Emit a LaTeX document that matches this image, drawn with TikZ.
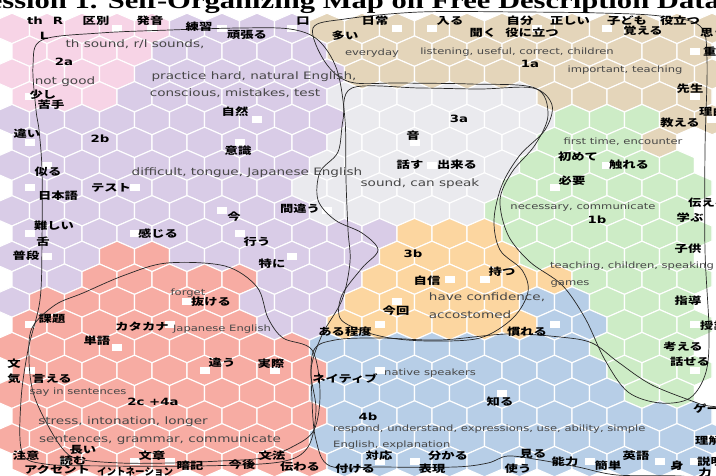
\documentclass[tikz,border=0pt]{standalone}
\usepackage{fontspec}
\usepackage{graphicx}
\setmainfont{Liberation Serif}
\newfontfamily\jpf{Noto Sans CJK JP}
\newfontfamily\enf{DejaVu Sans}
\newcommand\sx[1]{\scalebox{1.33}[1]{#1}}
\definecolor{cP}{RGB}{247,212,230}
\definecolor{cV}{RGB}{217,204,231}
\definecolor{cB}{RGB}{228,213,186}
\definecolor{cG}{RGB}{234,234,238}
\definecolor{cN}{RGB}{205,236,198}
\definecolor{cO}{RGB}{252,214,160}
\definecolor{cS}{RGB}{247,172,163}
\definecolor{cL}{RGB}{183,206,231}
\definecolor{cW}{RGB}{255,255,255}
\tikzset{
  jp/.style={font=\jpf\bfseries\fontsize{10}{10}\selectfont, inner sep=0pt, anchor=mid, text=black},
  jpw/.style={jp, anchor=mid west},
  en/.style={font=\enf\fontsize{10.2}{10}\selectfont, inner sep=0pt, anchor=mid, text=black!72},
  ens/.style={font=\enf\fontsize{8.7}{9}\selectfont, inner sep=0pt, anchor=mid, text=black!72},
  ensw/.style={ens, anchor=mid west},
  cid/.style={font=\enf\bfseries\fontsize{10}{10}\selectfont, inner sep=0pt, anchor=mid, text=black},
  curve/.style={draw=black!85, line width=0.7pt},
  hexcell/.style={draw=white, line width=1.1pt},
  marker/.style={fill=white},
}
\newcommand\J[3]{\node[jp] (#1) at (#2) {\sx{#3}};}
\newcommand\JW[3]{\node[jpw] (#1) at (#2) {\sx{#3}};}
\newcommand\E[3]{\node[en] (#1) at (#2) {\sx{#3}};}
\newcommand\ES[3]{\node[ens] (#1) at (#2) {\sx{#3}};}
\newcommand\ESW[3]{\node[ensw] (#1) at (#2) {\sx{#3}};}
\newcommand\ID[3]{\node[cid] (#1) at (#2) {\sx{#3}};}
\begin{document}
\begin{tikzpicture}[x=1pt,y=-1pt]
\useasboundingbox (0,0) rectangle (716,476);
\clip (0,0) rectangle (716,476);
\fill[white] (0,0) rectangle (716,476);
% hexagonal map
\foreach \r/\cells in {
 1/{P,P,P,P,P,V,V,V,V,B,B,B,B,B,B,B,B,B,B,B,B},
 2/{P,P,P,P,V,V,V,V,V,B,B,B,B,B,B,B,B,B,B,B},
 3/{P,P,P,P,V,V,V,V,V,V,B,B,B,B,B,B,B,B,B,B,B},
 4/{P,P,P,V,V,V,V,V,V,G,G,G,G,G,G,B,B,B,B,B},
 5/{V,V,V,V,V,V,V,V,V,V,G,G,G,G,G,G,N,N,N,B,B},
 6/{V,V,V,V,V,V,V,V,V,G,G,G,G,G,G,N,N,N,B,W},
 7/{V,V,V,V,V,V,V,V,V,G,G,G,G,G,G,N,N,N,N,N,W},
 8/{V,V,V,V,V,V,V,V,G,G,G,G,G,G,N,N,N,N,N,N},
 9/{V,V,V,V,V,V,V,V,V,G,G,G,G,G,N,N,N,N,N,N,W},
 10/{V,V,V,V,V,V,V,V,V,V,V,O,O,O,N,N,N,N,N,N},
 11/{V,V,V,S,S,V,V,V,V,V,V,O,O,O,O,N,N,N,N,N,W},
 12/{V,V,S,S,S,S,S,V,V,V,O,O,O,O,O,O,N,N,N,N},
 13/{V,S,S,S,S,S,S,V,V,V,O,O,O,O,O,L,L,N,N,N,W},
 14/{S,S,S,S,S,S,S,V,V,O,O,O,O,O,O,L,L,N,N,N},
 15/{S,S,S,S,S,S,S,S,S,L,L,L,L,L,L,L,L,N,N,N,W},
 16/{S,S,S,S,S,S,S,S,S,L,L,L,L,L,L,L,L,N,N,N},
 17/{S,S,S,S,S,S,S,S,S,L,L,L,L,L,L,L,L,L,N,N,W},
 18/{S,S,S,S,S,S,S,S,S,L,L,L,L,L,L,L,L,L,L,L},
 19/{S,S,S,S,S,S,S,S,S,L,L,L,L,L,L,L,L,L,L,L,L},
 20/{S,S,S,S,S,S,S,S,S,L,L,L,L,L,L,L,L,L,L,L}}
{
  \pgfmathsetmacro\yy{5.6+22.8*\r}
  \pgfmathsetmacro\xo{isodd(\r) ? 12 : 29.5}
  \foreach \c [count=\k from 0] in \cells {
    \pgfmathsetmacro\xx{\xo+35*\k}
    \filldraw[hexcell, fill=c\c] (\xx,\yy) ++(0,-15.2) -- ++(17.5,7.6) -- ++(0,15.2)
      -- ++(-17.5,7.6) -- ++(-17.5,-7.6) -- ++(0,-15.2) -- cycle;
  }
}
% unit markers
\foreach \mx/\my in {117/28.4,152/28.4,222/28.4,292/28.4,397/28.4,432/28.4,537/28.4,607/28.4,
  694.5/51.2,29.5/96.8,694.5/96.8,257/119.6,712/119.6,29.5/142.4,239.5/142.4,414.5/142.4,
  47/165.2,432/165.2,607/165.2,29.5/188,134.5/188,554.5/188,222/210.8,327/210.8,712/210.8,
  29.5/233.6,134.5/233.6,239.5/233.6,47/256.4,292/256.4,712/256.4,449.5/279.2,484.5/279.2,
  187/302,397/302,712/302,29.5/324.8,169.5/324.8,379.5/324.8,554.5/324.8,694.5/324.8,
  117/347.6,712/347.6,29.5/370.4,204.5/370.4,274.5/370.4,379.5/370.4,694.5/370.4,
  502/393.2,712/393.2,712/438.8,64.5/461.6,134.5/461.6,169.5/461.6,379.5/461.6,414.5/461.6,
  519.5/461.6,589.5/461.6,659.5/461.6,694.5/461.6}
  \fill[marker] (\mx-5,\my-3.5) rectangle (\mx+5,\my+3.5);
% cluster outlines
\draw[curve] plot[smooth cycle, tension=0.55] coordinates {(36,110) (33,65) (42,40) (100,33) (170,30) (240,28) (290,29) (318,40) (337,70) (345,120) (346,180) (348,230) (350,262) (342,300) (322,335) (311,370) (316,410) (308,447) (280,462) (200,466) (110,466) (45,464) (22,452) (21,400) (28,350) (40,300) (42,240) (42,170) (39,130)};
\draw[curve] plot[smooth cycle, tension=0.55] coordinates {(83,293) (125,275) (167,263) (225,266) (257,287) (268,318) (283,338) (312,350) (320,392) (314,430) (292,447) (262,458) (220,461) (170,463) (120,463) (78,459) (62,448) (45,420) (33,392) (29,360) (32,328) (55,305)};
\draw[curve] plot[smooth cycle, tension=0.55] coordinates {(352,88) (420,88) (480,89) (533,88) (552,105) (545,130) (520,155) (502,185) (494,220) (500,250) (522,270) (528,292) (513,318) (480,338) (430,341) (390,338) (360,330) (340,318) (342,295) (362,268) (378,250) (362,233) (335,220) (318,200) (320,172) (338,152) (343,120)};
\draw[curve] plot[smooth cycle, tension=0.55] coordinates {(313,28) (345,19) (420,12) (520,12) (600,13) (660,16) (700,26) (707,60) (705,150) (705,250) (709,330) (706,372) (690,398) (660,403) (628,392) (605,360) (585,318) (562,285) (530,262) (508,235) (500,200) (512,172) (535,145) (548,115) (535,88) (470,84) (400,83) (350,82) (325,62)};
\draw[curve] plot[smooth cycle, tension=0.55] coordinates {(313,352) (335,340) (380,338) (440,340) (507,334) (560,337) (592,343) (618,362) (652,385) (700,404) (730,415) (740,480) (680,476) (617,475) (578,467) (540,460) (508,456) (488,463) (455,467) (380,467) (330,466) (316,440) (312,400)};
% title (cut by the top edge)
\node[anchor=base east, inner sep=0pt, font=\bfseries\fontsize{23}{23}\selectfont] (title) at (720,9) {\sx{Session 1. Self-Organizing Map on Free Description Data}};
% cluster ids and Latin words
\ID{t1}{35,22}{th}
\ID{t2}{58,22}{R}
\ID{t3}{44,37}{L}
\ID{c1}{64,63}{2a}
\ID{c2}{530,65}{1a}
\ID{c3}{100,140}{2b}
\ID{c4}{459,120}{3a}
\ID{c5}{597,221}{1b}
\ID{c6}{413,255}{3b}
\ID{c7}{153,403}{2c +4a}
\ID{c8}{368,418}{4b}
% English glosses
\E{e1}{135,45}{th sound, r/l sounds,}
\E{e2}{65,82}{not good}
\E{e3}{254,77}{practice hard, natural English,}
\E{e4}{235,94}{conscious, mistakes, test}
\ES{e5}{372,53}{everyday}
\ES{e6}{517,52}{listening, useful, correct, children}
\ES{e7}{625,70}{important, teaching}
\E{e8}{247,173}{difficult, tongue, Japanese English}
\E{e9}{420,184}{sound, can speak}
\ES{e10}{623,142}{first time, encounter}
\ES{e11}{583,207}{necessary, communicate}
\ESW{e12}{550,266}{teaching, children, speaking}
\ES{e13}{570,283}{games}
\E{e14}{487,298}{have confidence,}
\E{e15}{470,316}{accostomed}
\ES{e16}{188,293}{forget}
\ES{e17}{222,329}{Japanese English}
\ES{e18}{78,392}{say in sentences}
\E{e19}{123,422}{stress, intonation, longer}
\E{e20}{160,440}{sentences, grammar, communicate}
\ES{e21}{430,373}{native speakers}
\ESW{e22}{333,429}{respond, understand, expressions, use, ability, simple}
\ESW{e23}{333,445}{English, explanation}
% Japanese words
\J{j1}{96,22}{区別}
\J{j2}{150,22}{発音}
\J{j3}{199,28}{練習}
\J{j4}{247,36}{頑張る}
\J{j5}{303,22}{口}
\J{j6}{345,37}{多い}
\J{j7}{375,22}{日常}
\J{j8}{450,22}{入る}
\J{j9}{520,22}{自分}
\J{j10}{570,22}{正しい}
\J{j11}{627,22}{子ども}
\J{j12}{680,22}{役立つ}
\J{j13}{483,34}{聞く}
\J{j14}{532,34}{役に立つ}
\J{j15}{643,32}{覚える}
\JW{j16}{700,34}{思う}
\JW{j17}{703,53}{重要}
\J{j18}{690,90}{先生}
\JW{j19}{699,113}{理由}
\J{j20}{680,124}{教える}
\J{j21}{43,96}{少し}
\J{j22}{51,106}{苦手}
\J{j23}{235,113}{自然}
\J{j24}{27,135}{違い}
\J{j25}{238,152}{意識}
\J{j26}{48,173}{似る}
\J{j27}{58,197}{日本語}
\J{j28}{111,189}{テスト}
\J{j29}{234,218}{今}
\J{j30}{300,210}{間違う}
\J{j31}{54,227}{難しい}
\J{j32}{43,243}{舌}
\J{j33}{158,235}{感じる}
\J{j34}{257,243}{行う}
\J{j35}{26,257}{普段}
\J{j36}{272,265}{特に}
\J{j37}{413,137}{音}
\J{j38}{410,166}{話す}
\J{j39}{457,166}{出来る}
\J{j40}{578,158}{初めて}
\J{j41}{629,166}{触れる}
\J{j42}{572,182}{必要}
\JW{j43}{688,204}{伝える}
\J{j44}{690,219}{学ぶ}
\J{j45}{688,250}{子供}
\J{j46}{427,282}{自信}
\J{j47}{502,273}{持つ}
\J{j48}{396,312}{今回}
\J{j49}{345,333}{ある程度}
\J{j50}{527,333}{慣れる}
\J{j51}{688,302}{指導}
\JW{j52}{700,327}{授業}
\J{j53}{683,348}{考える}
\J{j54}{690,363}{話せる}
\JW{j55}{693,410}{ゲーム}
\JW{j56}{695,442}{理解}
\JW{j57}{697,463}{説明}
\J{j58}{705,474}{力}
\J{j59}{211,303}{抜ける}
\J{j60}{52,320}{課題}
\J{j61}{142,328}{カタカナ}
\J{j62}{97,342}{単語}
\J{j63}{14,365}{文}
\J{j64}{222,364}{違う}
\J{j65}{271,365}{実際}
\J{j66}{14,380}{気}
\J{j67}{52,380}{言える}
\J{j68}{345,380}{ネイティブ}
\J{j69}{500,403}{知る}
\J{j70}{26,457}{注意}
\J{j71}{83,451}{長い}
\J{j72}{73,462}{読む}
\J{j73}{152,457}{文章}
\J{j74}{190,467}{暗記}
\J{j75}{242,466}{今後}
\J{j76}{272,457}{文法}
\J{j77}{300,468}{伝わる}
\J{j78}{57,471}{アクセント}
\node[jpw] (j79) at (97,473) {\scalebox{0.95}[1]{イントネーション}};
\J{j80}{355,470}{付ける}
\J{j81}{379,457}{対応}
\J{j82}{432,470}{表現}
\J{j83}{448,457}{分かる}
\J{j84}{518,470}{使う}
\J{j85}{533,455}{見る}
\J{j86}{565,463}{能力}
\J{j87}{608,467}{簡単}
\J{j88}{636,457}{英語}
\J{j89}{677,467}{身}
\end{tikzpicture}
\end{document}
